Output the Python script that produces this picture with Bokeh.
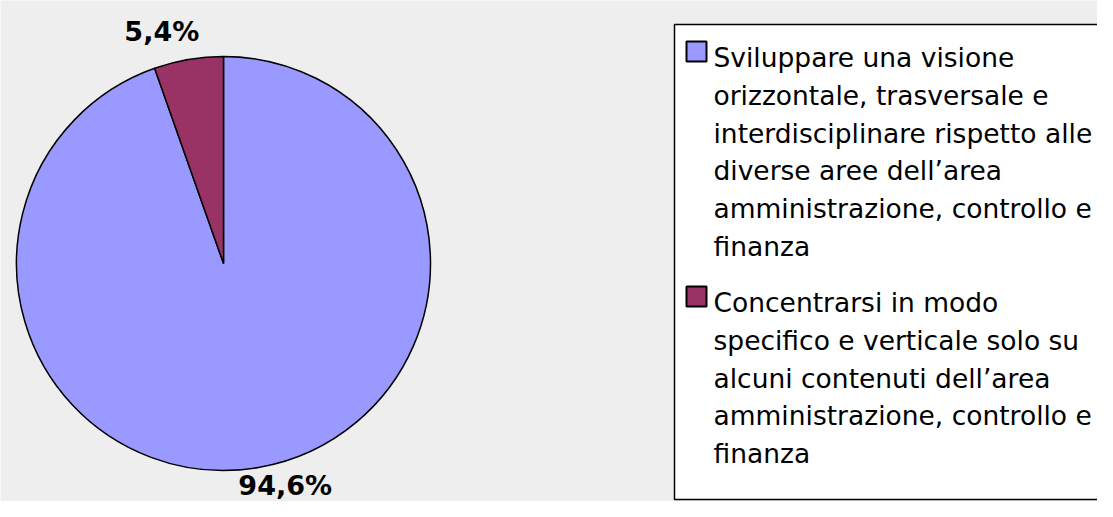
import math
from bokeh.plotting import figure
from bokeh.models import Range1d, ColumnDataSource
from bokeh.core.properties import value
from bokeh.embed import file_html
from bokeh.resources import INLINE

# ---- data ----
categories = [
    "Sviluppare una visione\norizzontale, trasversale e\ninterdisciplinare rispetto alle\ndiverse aree dell\u2019area\namministrazione, controllo e\nfinanza",
    "Concentrarsi in modo\nspecifico e verticale solo su\nalcuni contenuti dell\u2019area\namministrazione, controllo e\nfinanza",
]
values = [94.6, 5.4]
colors = ["#9999ff", "#993366"]

# ---- layout (pixels == data units, y measured from the bottom) ----
W, H = 1097, 501
CX, CY, R = 223, 238, 207
LABEL_R, LABEL_SHIFT, LABEL_BIAS = 235, math.radians(5.5), 5

p = figure(width=W, height=H, x_range=Range1d(0, W), y_range=Range1d(0, H),
           output_backend="svg", toolbar_location=None, min_border=0,
           x_axis_location=None, y_axis_location=None)
p.grid.visible = False
p.outline_line_color = None
p.background_fill_color = "#eeeeee"
p.border_fill_color = "#eeeeee"

total = sum(values)
starts, ends, mids = [], [], []
cum = 0.0
for v in values:
    a0 = math.pi / 2 - 2 * math.pi * cum / total
    cum += v
    a1 = math.pi / 2 - 2 * math.pi * cum / total
    starts.append(a0)
    ends.append(a1)
    mids.append((a0 + a1) / 2)

src = ColumnDataSource(dict(start=starts, end=ends, color=colors))
p.wedge(x=CX, y=CY, radius=R, start_angle="start", end_angle="end",
        direction="clock", fill_color="color", line_color="black",
        line_width=1.5, source=src)

lx = [CX + LABEL_R * math.cos(m + LABEL_SHIFT) for m in mids]
ly = [CY + LABEL_R * math.sin(m + LABEL_SHIFT) + LABEL_BIAS for m in mids]
ltxt = [("%.1f" % v).replace(".", ",") + "%" for v in values]
p.text(x=lx, y=ly, text=ltxt, text_align="center", text_baseline="middle",
       text_font=value("DejaVu Sans"), text_font_style="bold",
       text_font_size="27px", text_color="black")

# ---- legend ----
BOX_L, BOX_T, BOX_B = 674, 477, 2
p.quad(left=BOX_L, right=W + 30, top=BOX_T, bottom=BOX_B,
       fill_color="white", line_color="black", line_width=1.5)

LINE_H, GAP = 37.75, 18.5
TEXT_X, MARK_X = 713, 696
y0 = 444
tx, ty, tt, mx, my = [], [], [], [], []
for cat in categories:
    lines = cat.split("\n")
    mx.append(MARK_X)
    my.append(y0 + 6)
    for i, ln in enumerate(lines):
        tx.append(TEXT_X)
        ty.append(y0 - i * LINE_H)
        tt.append(ln)
    y0 -= len(lines) * LINE_H + GAP

p.rect(x=mx, y=my, width=20, height=20, fill_color=colors,
       line_color="black", line_width=2)
p.text(x=tx, y=ty, text=tt, text_align="left", text_baseline="alphabetic",
       text_font=value("DejaVu Sans"), text_font_size="26.5px", text_color="black")

open("out.html", "w").write(file_html(p, INLINE))
